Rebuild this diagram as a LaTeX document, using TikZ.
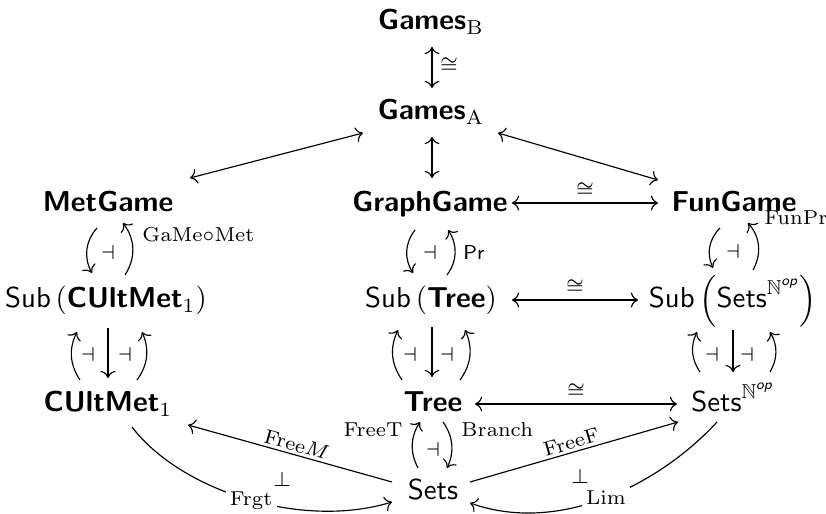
\documentclass[tikz,border=0pt]{standalone}
\usepackage{amsmath,amssymb}
\usetikzlibrary{calc,cd}
\tikzset{
  cat/.style={anchor=base, inner sep=0pt},
  lbl/.style={font=\scriptsize, inner sep=1pt},
  onarr/.style={lbl, fill=white, inner sep=1.5pt},
  arr/.style={-{cm to}},
  revarr/.style={{cm to}-},
  both/.style={{cm to}-{cm to}},
}
\newcommand{\catname}[1]{\textsf{\textbf{#1}}}
\newcommand{\presheaves}{\textsf{Sets}^{\mathbb{N}^{\textsf{\itshape op}}}}
\begin{document}
\begin{tikzpicture}[x=0.3472pt,y=0.3472pt,line width=0.4pt]
\useasboundingbox (0,0) rectangle (826,514);

% objects
\node[cat] (GB) at (431,484) {$\catname{Games}_{\mathrm{B}}$};
\node[cat] (GA) at (431,394) {$\catname{Games}_{\mathrm{A}}$};
\node[cat] (MG) at (108,302) {\catname{MetGame}};
\node[cat] (GG) at (430,302) {\catname{GraphGame}};
\node[cat] (FG) at (734,302) {\catname{FunGame}};
\node[cat] (SC) at (106,206) {\textsf{Sub}\,$\left(\catname{CUltMet}_1\right)$};
\node[cat] (ST) at (431,206) {\textsf{Sub}\,$\left(\catname{Tree}\right)$};
\node[cat] (SS) at (733,206) {\textsf{Sub}\,$\left(\presheaves\right)$};
\node[cat] (CU) at (108,102) {$\catname{CUltMet}_1$};
\node[cat] (TR) at (433,102) {\catname{Tree}};
\node[cat] (SN) at (733,102) {$\presheaves$};
\node[cat] (SE) at (433,14) {\textsf{Sets}};

% top isomorphisms
\draw[both] ($(GB.base)+(1,-17)$) -- ($(GA.base)+(1,32)$);
\node[lbl] (isoBA) at ($(GB.base)+(18,-35)$) {$\cong$};
\draw[both] ($(MG.base)+(82,34)$) -- ($(GA.base)+(-68,-13)$);
\draw[both] ($(GA.base)+(67,-13)$) -- ($(FG.base)+(-76,32)$);
\draw[both] ($(GA.base)+(1,-17)$) -- ($(GG.base)+(2,34)$);

% horizontal isomorphisms
\draw[both] ($(GG.base)+(82,9)$) -- node[lbl,above=1pt] (isoGF) {$\cong$} ($(FG.base)+(-76,9)$);
\draw[both] ($(ST.base)+(81,8)$) -- node[lbl,above=1pt] (isoSS) {$\cong$} ($(SS.base)+(-95,8)$);
\draw[both] ($(TR.base)+(42,8)$) -- node[lbl,above=1pt] (isoTS) {$\cong$} ($(SN.base)+(-56,8)$);

% games over subobjects
\draw[arr] ($(MG.base)+(-11,-16)$) to[bend right=35] ($(SC.base)+(-14,35)$);
\draw[arr] ($(SC.base)+(19,33)$) to[bend right=35] ($(MG.base)+(15,-11)$);
\node[lbl] (adjM) at ($(MG.base)+(0,-41)$) {$\dashv$};
\node[lbl,anchor=base west] (gmm) at ($(MG.base)+(31,-30)$) {$\mathrm{GaMe}{\circ}\mathrm{Met}$};

\draw[arr] ($(GG.base)+(-15,-18)$) to[bend right=35] ($(ST.base)+(-18,35)$);
\draw[arr] ($(ST.base)+(16,33)$) to[bend right=35] ($(GG.base)+(18,-18)$);
\node[lbl] (adjG) at ($(GG.base)+(0,-41)$) {$\dashv$};
\node[lbl,anchor=base west] (pr) at ($(GG.base)+(30,-48)$) {$\mathsf{Pr}$};

\draw[arr] ($(FG.base)+(-14,-16)$) to[bend right=35] ($(SS.base)+(-20,40)$);
\draw[arr] ($(SS.base)+(20,38)$) to[bend right=35] ($(FG.base)+(14,-11)$);
\node[lbl] (adjF) at ($(FG.base)+(-1,-40)$) {$\dashv$};
\node[lbl,anchor=base west] (funpr) at ($(FG.base)+(27,-13)$) {$\mathrm{FunPr}$};

% subobject adjunction triples
\draw[arr] ($(CU.base)+(-28,32)$) to[bend left=30] ($(SC.base)+(-29,-24)$);
\draw[arr] ($(SC.base)+(2,-20)$) -- ($(CU.base)+(0,34)$);
\draw[arr] ($(CU.base)+(29,32)$) to[bend right=30] ($(SC.base)+(36,-24)$);
\node[lbl] (adjC1) at ($(SC.base)+(-18,-47)$) {$\dashv$};
\node[lbl] (adjC2) at ($(SC.base)+(19,-47)$) {$\dashv$};

\draw[arr] ($(TR.base)+(-31,32)$) to[bend left=30] ($(ST.base)+(-33,-22)$);
\draw[arr] ($(ST.base)+(1,-19)$) -- ($(TR.base)+(-1,35)$);
\draw[arr] ($(TR.base)+(27,32)$) to[bend right=30] ($(ST.base)+(34,-22)$);
\node[lbl] (adjT1) at ($(ST.base)+(-21,-47)$) {$\dashv$};
\node[lbl] (adjT2) at ($(ST.base)+(16,-47)$) {$\dashv$};

\draw[arr] ($(SN.base)+(-33,40)$) to[bend left=30] ($(SS.base)+(-36,-24)$);
\draw[arr] ($(SS.base)+(0,-22)$) -- ($(SN.base)+(0,40)$);
\draw[arr] ($(SN.base)+(37,40)$) to[bend right=30] ($(SS.base)+(37,-24)$);
\node[lbl] (adjS1) at ($(SS.base)+(-21,-47)$) {$\dashv$};
\node[lbl] (adjS2) at ($(SS.base)+(14,-47)$) {$\dashv$};

% free / forgetful functors out of Sets
\draw[arr] ($(SE.base)+(-15,32)$) to[bend left=30] ($(TR.base)+(-13,-10)$);
\draw[arr] ($(TR.base)+(10,-10)$) to[bend left=30] ($(SE.base)+(14,32)$);
\node[lbl] (adjTS) at ($(TR.base)+(0,-38)$) {$\dashv$};
\node[lbl,anchor=base east] (freet) at ($(TR.base)+(-27,-25)$) {$\mathrm{FreeT}$};
\node[lbl,anchor=base west] (branch) at ($(TR.base)+(25,-25)$) {$\mathrm{Branch}$};

\draw[revarr] ($(CU.base)+(80,-13)$) -- node[lbl,above,sloped,pos=0.52] (freem) {$\mathrm{Free}M$} ($(SE.base)+(-41,18)$);
\draw[arr] ($(CU.base)+(24,-15)$) .. controls +(48,-63) and +(-92,-28) .. ($(SE.base)+(-41,-2)$)
  node[onarr,pos=0.52] (frgt) {$\mathrm{Frgt}$};
\node[lbl] (perpM) at ($(SE.base)+(-151,20)$) {$\perp$};

\draw[arr] ($(SE.base)+(37,18)$) -- node[lbl,above,sloped] (freef) {$\mathrm{FreeF}$} ($(SN.base)+(-55,-10)$);
\draw[arr] ($(SN.base)+(-16,-10)$) .. controls +(-57,-62) and +(90,-32) .. ($(SE.base)+(37,-3)$)
  node[onarr,pos=0.5] (lim) {$\mathrm{Lim}$};
\node[lbl] (perpF) at ($(SE.base)+(147,23)$) {$\perp$};
\end{tikzpicture}
\end{document}
